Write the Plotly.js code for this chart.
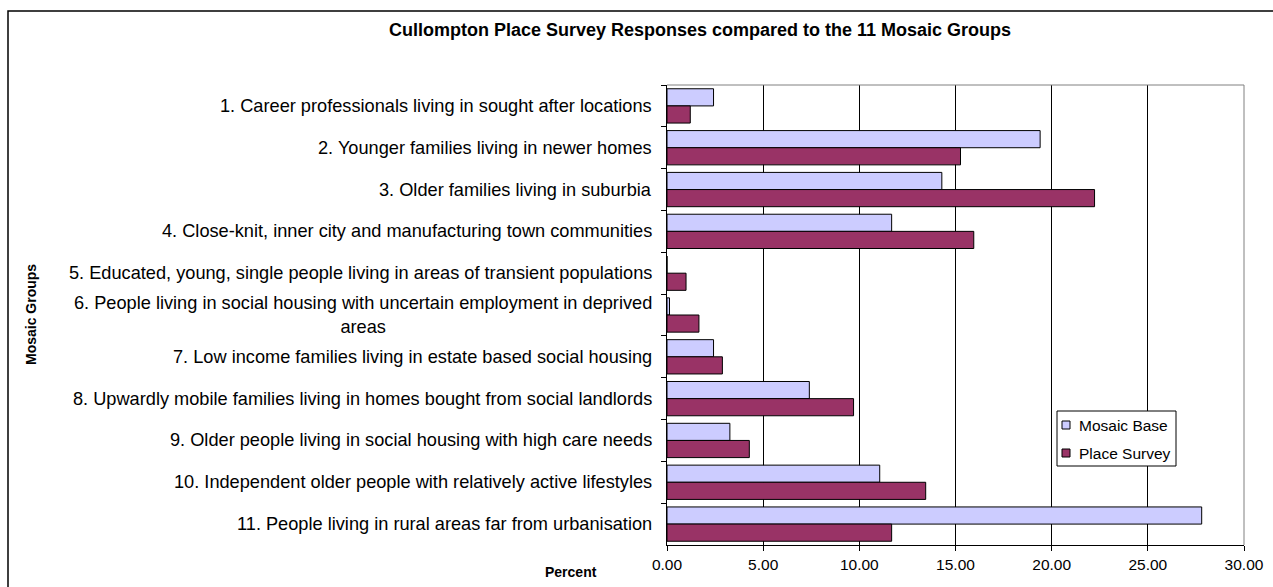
<!DOCTYPE html>
<html><head><meta charset="utf-8">
<script src="https://cdn.plot.ly/plotly-3.0.1.min.js"></script>
<style>html,body{margin:0;padding:0;background:#fff;overflow:hidden}#chart{width:1273px;height:587px}</style>
</head><body><div id="chart"></div>
<script>
const categories = [
  "1. Career professionals living in sought after locations",
  "2. Younger families living in newer homes",
  "3. Older families living in suburbia",
  "4. Close-knit, inner city and manufacturing town communities",
  "5. Educated, young, single people living in areas of transient populations",
  "6. People living in social housing with uncertain employment in deprived<br>areas",
  "7. Low income families living in estate based social housing",
  "8. Upwardly mobile families living in homes bought from social landlords",
  "9. Older people living in social housing with high care needs",
  "10. Independent older people with relatively active lifestyles",
  "11. People living in rural areas far from urbanisation"
];
const seriesNames = ["Mosaic Base", "Place Survey"];
const seriesColors = ["#CCCCFF", "#993366"];
const mosaicBase = [2.42, 19.40, 14.29, 11.68, 0.00, 0.13, 2.42, 7.40, 3.27, 11.06, 27.80];
const placeSurvey = [1.21, 15.26, 22.23, 15.95, 0.99, 1.66, 2.88, 9.70, 4.28, 13.45, 11.68];
const xTicks = [0, 5, 10, 15, 20, 25, 30];
const xTickLabels = ["0.00", "5.00", "10.00", "15.00", "20.00", "25.00", "30.00"];

const font = "Liberation Sans, Arial, sans-serif";
const W = 1273, H = 587;
const m = {l: 667, r: 29, t: 85, b: 42};
const pw = W - m.l - m.r, ph = H - m.t - m.b;
const px = v => (v - m.l) / pw;
const py = v => (H - m.b - v) / ph;

const traces = [mosaicBase, placeSurvey].map((vals, i) => ({
  type: 'bar', orientation: 'h', name: seriesNames[i], y: categories, x: vals, showlegend: false,
  marker: {color: seriesColors[i], line: {color: '#000', width: 1}}
}));

const annotations = categories.map(c => ({
  xref: 'paper', yref: 'y', x: px(654), y: c, xanchor: 'right', yanchor: 'middle',
  text: c, showarrow: false, align: c.indexOf('<br>') >= 0 ? 'center' : 'right',
  font: {family: font, size: 18.2, color: '#000'}
}));
annotations.push({xref: 'paper', yref: 'paper', x: px(31), y: py(315), xanchor: 'center', yanchor: 'middle',
  text: '<b>Mosaic Groups</b>', textangle: -90, showarrow: false, font: {family: font, size: 14, color: '#000'}});
annotations.push({xref: 'paper', yref: 'paper', x: px(571), y: py(572), xanchor: 'center', yanchor: 'middle',
  text: '<b>Percent</b>', showarrow: false, font: {family: font, size: 14, color: '#000'}});

// legend box (custom, to match the compact original legend)
const shapes = [
  {type: 'rect', xref: 'paper', yref: 'paper', x0: px(8), x1: px(1285), y0: py(600), y1: py(11),
   line: {color: '#000', width: 1.5}, layer: 'below'},
  {type: 'line', xref: 'paper', yref: 'paper', x0: 0, x1: 1, y0: 1, y1: 1, line: {color: '#808080', width: 1}},
  {type: 'line', xref: 'paper', yref: 'paper', x0: 1, x1: 1, y0: 0, y1: 1, line: {color: '#808080', width: 1}},
  {type: 'rect', xref: 'paper', yref: 'paper', x0: px(1057), x1: px(1176), y0: py(466), y1: py(411),
   line: {color: '#000', width: 1}, fillcolor: '#fff', layer: 'above'}
];
seriesNames.forEach((n, i) => {
  const cy = 425 + i * 28;
  shapes.push({type: 'rect', xref: 'paper', yref: 'paper', x0: px(1062), x1: px(1070), y0: py(cy + 4), y1: py(cy - 4),
    line: {color: '#000', width: 1}, fillcolor: seriesColors[i], layer: 'above'});
  annotations.push({xref: 'paper', yref: 'paper', x: px(1077), y: py(cy), xanchor: 'left', yanchor: 'middle',
    text: n, showarrow: false, font: {family: font, size: 15.5, color: '#000'}});
});

const layout = {
  width: W, height: H, margin: m,
  paper_bgcolor: '#fff', plot_bgcolor: '#fff',
  title: {text: '<b>Cullompton Place Survey Responses compared to the 11 Mosaic Groups</b>',
    xref: 'container', x: 700 / W, xanchor: 'center', yref: 'container', y: 1 - 30 / H, yanchor: 'middle',
    font: {family: font, size: 18, color: '#000'}},
  barmode: 'group', bargap: 0.18, bargroupgap: 0,
  showlegend: false,
  xaxis: {range: [0, 30], tickvals: xTicks, ticktext: xTickLabels, showgrid: true,
    gridcolor: '#000', gridwidth: 1, showline: true, linecolor: '#000', linewidth: 1,
    ticks: 'outside', ticklen: 5, tickcolor: '#000', zeroline: false, mirror: false,
    tickfont: {family: font, size: 15.5, color: '#000'}, fixedrange: true},
  yaxis: {type: 'category', autorange: 'reversed', showticklabels: false, showline: true,
    linecolor: '#000', linewidth: 1, ticks: 'outside', ticklen: 5, tickcolor: '#000',
    tickson: 'boundaries', showgrid: false, fixedrange: true},
  annotations: annotations,
  shapes: shapes
};
Plotly.newPlot('chart', traces, layout, {displayModeBar: false, staticPlot: true});
</script></body></html>
